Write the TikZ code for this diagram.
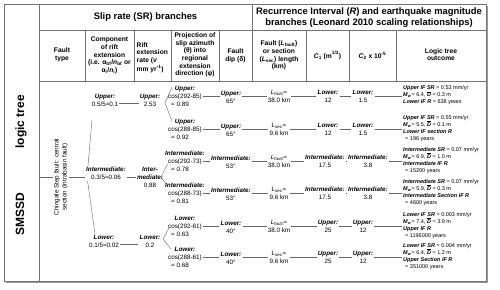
\documentclass[tikz,border=0pt]{standalone}
\usepackage{fontspec}
\setmainfont{Liberation Sans}
\usepackage{calc}
\newcommand\bfit[1]{\textbf{\textit{#1}}}
\newcommand\Dbar{\bfit{D}\kern-3.5pt\raisebox{4.5pt}{\rule{3.4pt}{0.35pt}}\kern0.1pt}
\newcommand\Mw{\bfit{M}\textsubscript{\bfit{w}}}
\newcommand\projtxt[3]{\makebox[\widthof{#2}][c]{\bfit{#1}}\\#2\\\hspace*{3pt}= #3}
\begin{document}
\begin{tikzpicture}[x=1pt,y=-1pt,
  tbl/.style={draw=black!55, line width=0.6pt},
  con/.style={draw=black!60, line width=0.4pt},
  txt/.style={font=\fontsize{6.3}{8}\selectfont, inner sep=1pt, align=center},
  hdr/.style={font=\fontsize{6.7}{7.6}\selectfont\bfseries, inner sep=0pt, align=center},
  bigtxt/.style={font=\fontsize{9.4}{11.5}\selectfont\bfseries, inner sep=0pt, align=center},
  outbox/.style={font=\fontsize{5.5}{7.2}\selectfont, inner sep=1pt, align=left, anchor=west},
]
\useasboundingbox (0,0) rectangle (500,289);
% frame
\draw[black!40, line width=1.6pt] (487.6,6) -- (487.6,282.6) -- (6,282.6);
\draw[tbl] (4,4) rectangle (486,281);
\draw[tbl] (39,4) -- (39,281);
\draw[tbl] (39,30) -- (486,30);
\draw[tbl] (39,81) -- (486,81);
\draw[tbl] (252,4) -- (252,81);
\foreach \x in {85,134,171,219,306,349,396} \draw[tbl] (\x,30) -- (\x,81);
% headers
\node[bigtxt] (hsr) at (145.5,17) {Slip rate (SR) branches};
\node[bigtxt] (hri) at (369,17.5) {Recurrence Interval (\textit{R}) and earthquake magnitude\\branches (Leonard 2010 scaling relationships)};
\node[hdr] (h1) at (62,55) {Fault\\type};
\node[hdr] (h2) at (109.5,55.5) {Component\\of rift\\extension\\(i.e. α\textsubscript{bf}/\textit{n}\textsubscript{bf} or\\α\textsubscript{i}/\textit{n}\textsubscript{i})};
\node[hdr, align=left, anchor=west] (h3) at (136.5,57.5) {Rift\\extension\\rate (\textit{v}\\mm yr\textsuperscript{-1})};
\node[hdr] (h4) at (195,55) {Projection of\\slip azimuth\\(θ) into\\regional\\extension\\direction (φ)};
\node[hdr] (h5) at (235.5,55.5) {Fault\\dip (δ)};
\node[hdr] (h6) at (279,55.5) {Fault (\textit{L}\textsubscript{fault})\\or section\\(\textit{L}\textsubscript{sec}) length\\(km)};
\node[hdr] (h7) at (327.5,55.5) {\textit{C}\textsubscript{1} (m\textsuperscript{1/3})};
\node[hdr] (h8) at (372.5,55.5) {\textit{C}\textsubscript{2} x 10\textsuperscript{-5}};
\node[hdr] (h9) at (441,54.5) {Logic tree\\outcome};
% left title
\node[font=\fontsize{12}{14}\selectfont\bfseries, rotate=90, inner sep=0pt] (title) at (21,165) {SMSSD\hspace{44pt}logic tree};
% fault type
\node[txt, rotate=90] (ft) at (61,177) {Chingale Step fault: central\\section (Intrabasin fault)};
\coordinate (ftl) at (39,177);
\coordinate (fk0) at (87,177);
\coordinate (fa) at (92,120);
\coordinate (fb) at (95,234);
\draw[con] (ftl) -- (ft.north);
\draw[con] (ft.south) -- (fk0);
\draw[con] (fa) -- (fk0) -- (fb);
% component
\node[txt, fill=white] (cu) at (105,100) {\bfit{Upper:}\\0.5/5=0.1};
\node[txt, fill=white] (ci) at (106,173.5) {\bfit{Intermediate:}\\0.3/5=0.06};
\node[txt, fill=white] (cl) at (104,241) {\bfit{Lower:}\\0.1/5=0.02};
% rift rate
\node[txt] (ru) at (150,100) {\bfit{Upper:}\\2.53};
\node[txt] (ri) at (150,177) {\bfit{Inter-}\\\bfit{mediate:}\\0.88};
\node[txt] (rl) at (150,241) {\bfit{Lower:}\\0.2};
\draw[con] ([yshift=-3pt]cu.east) -- ([yshift=-3pt]ru.west);
\draw[con] ([yshift=-3.5pt]ci.east) -- (ri.west);
\draw[con] ([yshift=-3pt]cl.east) -- ([yshift=-3pt]rl.west);
% projection
\node[txt, align=left] (p1) at (185,96) {\projtxt{Upper:}{cos(292-85)}{0.89}};
\node[txt, align=left] (p2) at (185,129) {\projtxt{Upper:}{cos(288-85)}{0.92}};
\node[txt, align=left] (p3) at (185,161) {\projtxt{Intermediate:}{cos(292-73)}{0.78}};
\node[txt, align=left] (p4) at (185,193) {\projtxt{Intermediate:}{cos(288-73)}{0.81}};
\node[txt, align=left] (p5) at (185,226) {\projtxt{Lower:}{cos(292-61)}{0.63}};
\node[txt, align=left] (p6) at (185,257) {\projtxt{Lower:}{cos(288-61)}{0.68}};
% rift forks
\coordinate (vu) at (165,103);
\coordinate (vi) at (161,177);
\coordinate (vl) at (163,239);
\draw[con] ([xshift=5pt,yshift=9pt]p1.west) -- (vu) -- ([xshift=5pt,yshift=8pt]p2.west);
\draw[con] ([xshift=0.5pt,yshift=-3pt]p3.west) -- (vi) -- ([xshift=-1pt,yshift=9pt]p4.west);
\draw[con] ([xshift=2pt,yshift=-2pt]p5.west) -- (vl) -- ([xshift=4pt,yshift=8pt]p6.west);
% columns per row
\foreach \i/\yc/\dl/\dv/\ls/\lv/\cl/\ca/\cb/\xa/\xb in {
  1/96/Upper:/65/fault/38.0/Lower:/12/1.5/328/363,
  2/129/Upper:/65/sec/9.6/Lower:/12/1.5/328/363,
  3/161/Intermediate:/53/fault/38.0/Intermediate:/17.5/3.8/325/368,
  4/193/Intermediate:/53/sec/9.6/Intermediate:/17.5/3.8/325/368,
  5/226/Lower:/40/fault/38.0/Upper:/25/12/328/363,
  6/257/Lower:/40/sec/9.6/Upper:/25/12/328/363}{
  \node[txt] (d\i) at (231,\yc+1.5) {\bfit{\dl}\\\dv°};
  \node[txt] (l\i) at (279,\yc) {\textit{L}\textsubscript{\ls}=\\\lv{} km};
  \node[txt] (a\i) at (\xa,\yc) {\bfit{\cl}\\\ca};
  \node[txt] (b\i) at (\xb,\yc) {\bfit{\cl}\\\cb};
}
% outcomes
\node[outbox] (o1) at (402,95) {\bfit{Upper IF SR} = 0.53 mm/yr\\\Mw= 6.4, \Dbar{} = 0.3 m\\\bfit{Lower IF R} = 638 years};
\node[outbox] (o2) at (402,128.5) {\bfit{Upper IF SR} = 0.55 mm/yr\\\Mw= 5.5, \Dbar{} = 0.1 m\\\bfit{Lower IF section R}\\\hspace*{2pt}= 196 years};
\node[outbox] (o3) at (402,160.5) {\bfit{Intermediate SR} = 0.07 mm/yr\\\Mw= 6.9, \Dbar{} = 1.0 m\\\bfit{Intermediate IF R}\\\hspace*{2pt}= 15200 years};
\node[outbox] (o4) at (402,192.5) {\bfit{Intermediate SR} = 0.07 mm/yr\\\Mw= 5.9, \Dbar{} = 0.3 m\\\bfit{Intermediate Section IF R}\\\hspace*{2pt}= 4600 years};
\node[outbox] (o5) at (402,225.5) {\bfit{Lower IF SR} = 0.003 mm/yr\\\Mw= 7.4, \Dbar{} = 3.9 m\\\bfit{Upper IF R}\\\hspace*{2pt}= 1196000 years};
\node[outbox] (o6) at (402,256.5) {\bfit{Lower IF SR} = 0.004 mm/yr\\\Mw= 6.4, \Dbar{} = 1.2 m\\\bfit{Upper Section IF R}\\\hspace*{2pt}= 351000 years};
% row connectors
\foreach \i in {1,...,6}{
  \draw[con] (p\i.east) -- (p\i.east -| d\i.west);
  \draw[con] (l\i.west -| d\i.east) -- (l\i.west);
  \draw[con] (l\i.east) -- (a\i.west);
  \draw[con] (a\i.east) -- (b\i.west);
  \draw[con] (b\i.east) -- (b\i.east -| o\i.west);
}
\end{tikzpicture}
\end{document}
